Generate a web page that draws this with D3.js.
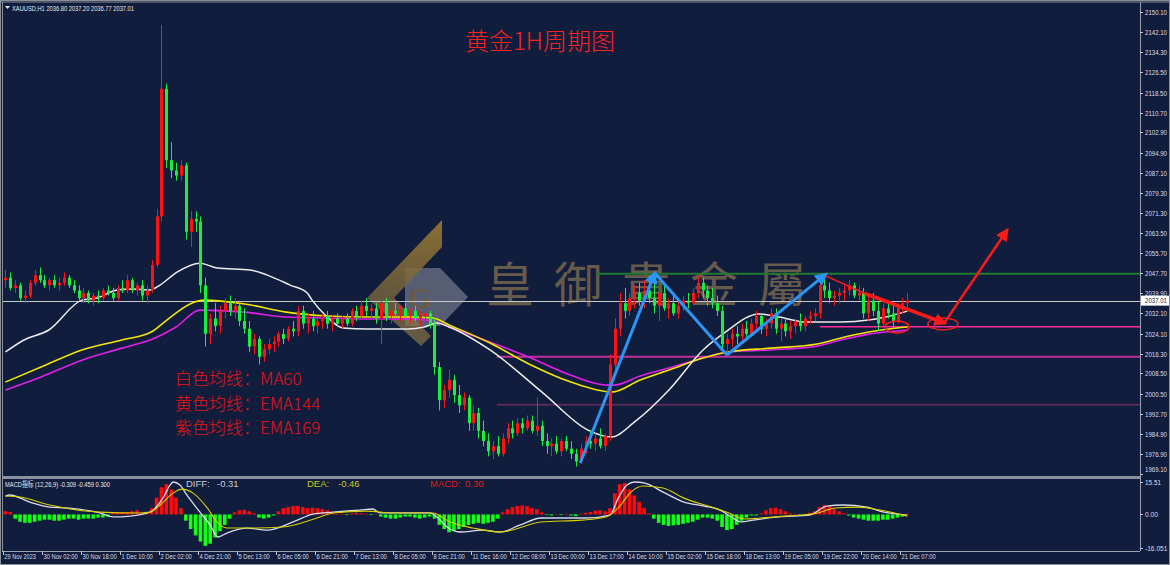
<!DOCTYPE html>
<html><head><meta charset="utf-8">
<script src="https://cdn.jsdelivr.net/npm/d3@7/dist/d3.min.js"></script>
<style>html,body{margin:0;padding:0;background:#111d3d;overflow:hidden}svg{display:block}</style>
</head><body><svg id="chart" width="1170" height="565"></svg>
<script>
// ---------------- DATA ----------------
// 2-hour candles (index 0 = 29 Nov), XAUUSD
const openP = [2045,2046,2042,2043,2038,2039,2044,2047,2045,2043,
2045,2043,2044,2046,2043,2041,2038,2040,2037,2039,
2038,2041,2040,2038,2042,2041,2045,2041,2043,2039,
2041,2051,2070,2120,2092,2088,2086,2090,2064,2069,
2068,2043,2024,2030,2027,2033,2036,2033,2035,2029,
2026,2019,2022,2015,2018,2020,2021,2024,2022,2026,
2025,2033,2028,2030,2027,2029,2031,2028,2030,2028,
2030,2028,2033,2031,2035,2033,2034,2030,2036,2031,
2033,2032,2034,2031,2033,2030,2031,2032,2028,2011,
1998,2002,2006,2000,1996,1999,1989,1993,1986,1982,
1978,1980,1977,1983,1987,1985,1989,1987,1990,1986,
1988,1982,1980,1981,1978,1982,1979,1977,1974,1979,
1982,1981,1983,1980,1984,2012,2026,2036,2033,2038,
2040,2037,2041,2038,2035,2040,2034,2036,2032,2035,
2037,2036,2040,2044,2041,2038,2036,2033,2020,2022,
2024,2023,2026,2024,2028,2031,2026,2028,2032,2026,
2028,2025,2027,2029,2027,2030,2031,2032,2043,2041,
2038,2039,2040,2041,2043,2039,2040,2032,2037,2033,
2028,2034,2032,2029,2035,2036];
const highP = [2049,2048,2045,2044,2041,2045,2049,2050,2047,2046,
2047,2046,2048,2047,2045,2043,2042,2041,2040,2041,
2042,2043,2042,2043,2045,2047,2046,2044,2045,2043,
2053,2073,2145,2122,2099,2091,2092,2091,2072,2072,
2070,2046,2032,2036,2035,2038,2039,2038,2037,2034,
2029,2024,2023,2020,2022,2023,2025,2026,2027,2029,
2035,2035,2032,2033,2031,2032,2033,2031,2032,2031,
2032,2034,2035,2037,2038,2036,2036,2038,2038,2035,
2036,2035,2036,2034,2035,2033,2034,2033,2030,2013,
2004,2010,2008,2004,2001,2000,1996,1995,1990,1985,
1982,1984,1985,1989,1990,1991,1991,1992,1992,1999,
1990,1985,1983,1984,1983,1984,1982,1979,1981,1984,
1986,1985,1987,1985,2016,2030,2040,2042,2040,2043,
2044,2045,2047,2044,2042,2043,2038,2039,2037,2039,
2040,2042,2047,2046,2043,2042,2039,2035,2024,2026,
2027,2028,2029,2030,2033,2032,2030,2034,2034,2030,
2030,2029,2030,2032,2031,2033,2034,2046,2047,2044,
2041,2042,2043,2045,2044,2043,2042,2039,2040,2037,
2036,2037,2035,2036,2038,2040];
const lowP = [2042,2041,2040,2037,2036,2038,2043,2044,2042,2041,
2042,2041,2043,2042,2040,2037,2036,2036,2035,2036,
2037,2039,2037,2037,2040,2040,2040,2039,2037,2036,
2040,2050,2068,2089,2085,2084,2084,2061,2058,2064,
2040,2019,2020,2025,2024,2030,2031,2030,2027,2024,
2017,2016,2012,2013,2016,2017,2019,2020,2021,2023,
2023,2026,2024,2025,2024,2026,2026,2025,2027,2026,
2027,2027,2029,2030,2031,2030,2028,2020,2029,2028,
2030,2029,2030,2028,2029,2027,2028,2026,2008,1994,
1995,1999,1997,1993,1994,1986,1986,1983,1980,1976,
1975,1976,1976,1981,1983,1984,1985,1986,1985,1984,
1980,1977,1976,1977,1976,1978,1975,1972,1973,1977,
1979,1978,1979,1978,1982,2010,2023,2030,2031,2034,
2035,2034,2036,2032,2029,2033,2030,2031,2030,2033,
2034,2035,2038,2038,2035,2034,2031,2017,2016,2019,
2020,2021,2022,2023,2026,2024,2023,2026,2024,2021,
2023,2022,2024,2025,2025,2028,2029,2030,2038,2036,
2035,2036,2037,2039,2038,2037,2030,2029,2031,2025,
2027,2030,2026,2028,2032,2034];
const closeP = [2046,2042,2043,2038,2039,2044,2047,2045,2043,2045,
2043,2044,2046,2043,2041,2038,2040,2037,2039,2038,
2041,2040,2038,2042,2041,2045,2041,2043,2039,2041,
2051,2070,2120,2092,2088,2086,2090,2064,2069,2068,
2043,2024,2030,2027,2033,2036,2033,2035,2029,2026,
2019,2022,2015,2018,2020,2021,2024,2022,2026,2025,
2033,2028,2030,2027,2029,2031,2028,2030,2028,2030,
2028,2033,2031,2035,2033,2034,2030,2036,2031,2033,
2032,2034,2031,2033,2030,2031,2032,2028,2011,1998,
2002,2006,2000,1996,1999,1989,1993,1986,1982,1978,
1980,1977,1983,1987,1985,1989,1987,1990,1986,1988,
1982,1980,1981,1978,1982,1979,1977,1974,1979,1982,
1981,1983,1980,1984,2012,2026,2036,2033,2038,2040,
2037,2041,2038,2035,2040,2034,2036,2032,2035,2037,
2036,2040,2044,2041,2038,2036,2033,2020,2022,2024,
2023,2026,2024,2028,2031,2026,2028,2032,2026,2028,
2025,2027,2029,2027,2030,2031,2032,2043,2041,2038,
2039,2040,2041,2043,2039,2040,2032,2037,2033,2028,
2034,2032,2029,2035,2036,2037.01];

// moving averages: [candle index, price]
const ma60 = [[0,2016.9],[3.8,2021.6],[8.9,2025.5],[15.7,2037.2],[18.8,2038.0],[22.9,2041.2],[26.2,2041.6],[29.7,2041.2],[31.7,2043.1],[35.2,2048.2],[39.9,2051.7],[43.4,2049.8],[50.2,2049.0],[53.7,2047.0],[58.4,2043.1],[61.9,2040.0],[62.9,2037.2],[66.0,2030.6],[69.2,2026.3],[74.2,2025.9],[82.6,2025.9],[85.9,2026.7],[88.5,2028.2],[91.0,2026.7],[99.4,2017.7],[110.3,2000.8],[119.5,1986.3],[124.4,1983.6],[129.0,1989.4],[136.1,2002.0],[143.1,2017.7],[147.4,2024.3],[154.6,2031.8],[158.7,2030.6],[164.4,2028.6],[171.4,2028.6],[177.1,2029.4],[180.6,2030.6],[185,2032.9]];
const ema144 = [[0,2005.1],[7.3,2011.0],[15.7,2017.7],[23.9,2021.6],[29.9,2024.7],[33.1,2029.4],[38.3,2036.1],[40.7,2037.2],[49.1,2035.7],[57.6,2032.5],[66.0,2031.0],[74.2,2030.6],[82.6,2030.6],[87.7,2030.2],[91.0,2027.5],[99.4,2020.4],[107.8,2011.8],[116.0,2005.1],[124.4,2001.2],[130.2,2005.9],[136.1,2009.8],[143.1,2014.5],[148.2,2016.9],[157.2,2018.4],[166.5,2020.0],[171.4,2022.4],[177.1,2024.7],[182.9,2026.3],[185,2026.7]];
const ema169 = [[0,2002.0],[7.3,2007.1],[15.7,2013.7],[23.9,2018.4],[30.7,2022.4],[35.0,2026.7],[39.9,2033.3],[49.1,2032.5],[57.6,2030.6],[66.0,2030.2],[74.2,2029.8],[82.6,2029.8],[87.7,2029.0],[91.0,2026.7],[99.4,2020.8],[107.8,2014.5],[116.0,2007.8],[123.6,2003.9],[124.8,2003.9],[130.2,2007.5],[136.1,2010.6],[143.1,2014.5],[148.2,2016.9],[157.2,2017.7],[166.5,2019.2],[171.4,2021.6],[177.1,2023.9],[182.9,2025.1],[185,2025.5]];

// MACD (12,26,9)
const macdHist = [1.5,1.2,-2,-3.5,-4,-4,-3.5,-3,-2.5,-2.5,
-3,-3,-2.5,-2,-2,-2.5,-2,-2,-2,-1.5,
-1.5,-1,0.8,1,1.2,1.2,1.5,2,0.5,0.2,
3,8,13,14.5,12,8,3,-3,-7,-10,
-13,-15,-14,-11,-8,-5,-2,1,2,2.2,
1.5,0.5,-1.5,-2,-1.5,-0.5,1.5,3,3.5,4,
4,3.5,3,3.2,3,2.5,2,1,0.3,0.3,
-0.3,0.5,0.8,0.5,0.3,-0.3,0.2,-1,-1.5,-2,
-2,-1.5,-1,-1,-1.5,-2,-1.5,-1,-2,-5,
-7,-8.5,-8,-7,-6,-5,-4.5,-4,-4.5,-4,
-3.5,-2,1,2.5,3.5,4,4.3,4,3,2.5,
1,-0.3,-0.5,0.2,-0.3,0.3,-0.5,-0.8,0.3,0.8,
1.2,1.8,2,1.5,3,10,14.5,15,12,9,
6,3,0.5,-2,-4,-5,-5.5,-5.2,-5,-4.5,
-4,-3.5,-2.5,-1.5,-1.5,-2,-3,-6,-7.5,-7,
-5,-3,-1.5,-0.5,-0.5,0.5,2,3,3.2,2.5,
1.5,0.5,0.3,-0.3,0.3,0.8,1.5,3.5,4.5,4,
2.5,1.5,0.5,-0.5,-1.5,-2,-2.5,-3,-3,-3,
-2.5,-2.5,-2,-1.5,-1,0.3];
const macdDiff = [[0,8.8],[0.9,9.3],[5.0,5.9],[9.1,3.5],[12.6,3.1],[19.4,0.7],[22.1,-1.2],[25.6,-0.8],[28.2,0.2],[29.7,1.1],[32.3,7.8],[33.8,14.1],[34.4,15.5],[35.8,14.1],[37.2,9.3],[39.9,1.1],[42.0,-5.1],[43.6,-10.8],[45.4,-8.9],[49.6,-6.5],[53.7,-7.5],[59.0,-3.6],[63.1,0.2],[67.2,1.1],[72.7,2.1],[75.4,2.6],[76.8,0.7],[80.9,0.7],[87.1,0.7],[88.5,-1.2],[90.6,-6.0],[93.2,-8.4],[98.0,-7.5],[101.5,-8.4],[105.5,-5.1],[109.9,-1.7],[119.1,-1.7],[124.0,-0.3],[125.7,7.8],[127.5,14.1],[129.1,15.5],[131.2,15.0],[134.9,10.7],[139.2,5.9],[143.3,4.0],[146.6,2.1],[149.2,-1.7],[150.9,-3.6],[153.4,-2.7],[158.5,-1.2],[165.0,-0.3],[168.5,4.0],[171.8,4.5],[176.7,3.5],[180.2,1.1],[185,-0.3]];
const macdDea = [[0,8.8],[3.0,8.3],[9.1,4.5],[19.4,1.1],[27.6,0.7],[29.7,1.1],[31.7,4.5],[34.4,10.2],[36.2,12.1],[38.5,10.2],[41.4,3.1],[43.4,-3.6],[45.4,-6.5],[50.2,-6.5],[56.9,-6.0],[63.9,-1.7],[67.2,0.7],[74.2,1.6],[79.5,0.7],[87.7,0.7],[91.2,-3.6],[95.9,-6.5],[101.5,-8.4],[109.9,-3.6],[118.3,-2.7],[123.2,-1.2],[125.7,3.1],[128.3,10.7],[130.8,13.6],[134.9,12.6],[139.2,7.8],[144.9,3.5],[148.4,0.7],[151.7,-2.2],[154.9,-1.7],[160.1,-0.8],[166.7,0.7],[170.2,3.1],[175.1,3.5],[179.4,2.1],[185,-0.8]];

// axes
const priceTicks = ["2150.10","2142.10","2134.30","2126.50","2118.50","2110.70","2102.90","2094.90","2087.10","2079.30","2071.30","2063.50","2055.70","2047.70","2039.90","2032.10","2024.10","2016.30","2008.50","2000.50","1992.70","1984.90","1976.90","1969.10"];
const macdTicks = ["15.51","0.00","-16.051"];
const timeLabels = ["29 Nov 2023","30 Nov 02:00","30 Nov 18:00","1 Dec 10:00","2 Dec 02:00","4 Dec 21:00","5 Dec 13:00","6 Dec 05:00","6 Dec 21:00","7 Dec 13:00","8 Dec 05:00","8 Dec 21:00","11 Dec 16:00","12 Dec 08:00","13 Dec 00:00","13 Dec 17:00","14 Dec 10:00","15 Dec 02:00","15 Dec 18:00","18 Dec 13:00","19 Dec 05:00","19 Dec 22:00","20 Dec 14:00","21 Dec 07:00"];
const timeStep = 8; // candles between time labels

// annotations (candle index, price)
const levelPrices = [2047.55, 2026.8, 2015.0, 1996.2];
const levelStarts = [121.3, 167.1, 100.8, 100.8];
const lastPrice = 2037.01;
const bluePath = [[117.9,1973.4],[133.2,2047.8],[148.0,2015.7],[168.3,2047.4]];
const redTrend = [[168.3,2046.7],[176.3,2039.8],[192.7,2028.2]];
const redUp = [[192.7,2028.6],[205.5,2064.7]];
const circles = [[182.9,2026.7],[192.3,2027.9]];

const headerText = "XAUUSD,H1  2036.80 2037.20 2036.77 2037.01";
const titleText = "黄金1H周期图";
const legendLines = ["白色均线：MA60","黄色均线：EMA144","紫色均线：EMA169"];
const macdInfo = "MACD指标 (12,26,9) -0.309 -0.459 0.300";
const macdVals = [["DIFF:","-0.31"],["DEA:","-0.46"],["MACD:","0.30"]];

// ---------------- DRAW ----------------
const svg = d3.select("#chart");
const BG = "#111d3d";
const plotL = 3, plotR = 1140, mainTop = 3, mainBot = 475, macdTop = 479, macdBot = 551;
const x = d3.scaleLinear().domain([0, 184]).range([3, 900]);
const cx = i => x(i + 0.5);
const y = d3.scaleLinear().domain([1969.1, 2153.2]).range([474, 4]);
const ym = d3.scaleLinear().domain([-16.051, 15.51]).range([548, 482]);

svg.append("rect").attr("width", 1170).attr("height", 565).attr("fill", BG);
const defs = svg.append("defs");
defs.append("clipPath").attr("id", "clipMain").append("rect")
  .attr("x", plotL).attr("y", mainTop).attr("width", plotR - plotL).attr("height", mainBot - mainTop);
defs.append("clipPath").attr("id", "clipMacd").append("rect")
  .attr("x", plotL).attr("y", macdTop).attr("width", plotR - plotL).attr("height", macdBot - macdTop);
function marker(id, color, size) {
  defs.append("marker").attr("id", id).attr("viewBox", "0 0 10 10").attr("refX", 8).attr("refY", 5)
    .attr("markerWidth", size).attr("markerHeight", size).attr("markerUnits", "userSpaceOnUse")
    .attr("orient", "auto").append("path").attr("d", "M0,0 L10,5 L0,10 Z").attr("fill", color);
}
marker("arrBlue", "#2a95f5", 13);
marker("arrRed", "#ff1a1a", 13);
const gold = defs.append("linearGradient").attr("id", "gold").attr("x1", 0).attr("y1", 0).attr("x2", 0).attr("y2", 1);
gold.append("stop").attr("offset", "0%").attr("stop-color", "#a07c30");
gold.append("stop").attr("offset", "100%").attr("stop-color", "#70603e");

// watermark
const wm = svg.append("g").attr("clip-path", "url(#clipMain)");
wm.append("polygon").attr("points", "405,268 440,268 468,297 440,326 405,326").attr("fill", "#5f6679").attr("opacity", 0.9);
wm.append("polygon").attr("points", "442,220 442,247 394,298 367,298").attr("fill", "url(#gold)").attr("opacity", 0.85);
wm.append("polygon").attr("points", "367,298 394,298 431,336 421,346").attr("fill", "#8a7444").attr("opacity", 0.7);
wm.append("text").attr("x", 420).attr("y", 308).attr("text-anchor", "middle")
  .attr("font-family", "Liberation Serif, serif").attr("font-weight", "bold").attr("font-size", 30)
  .attr("fill", "#6a5a44").text("G");
wm.append("text").attr("x", 486).attr("y", 302)
  .attr("font-family", "Noto Sans CJK TC, Noto Sans CJK SC, sans-serif").attr("font-size", 48)
  .attr("letter-spacing", 20).attr("fill", "#6e604c").attr("opacity", 0.92).text("皇御貴金屬");

// horizontal levels
const gMain = svg.append("g").attr("clip-path", "url(#clipMain)");
const levelColors = ["#207a32", "#ff2a9c", "#c0309a", "#5a2a5c"];
const levelWidths = [2, 1.5, 2, 2];
levelPrices.forEach((p, k) => {
  gMain.append("line").attr("x1", cx(levelStarts[k])).attr("x2", plotR)
    .attr("y1", y(p)).attr("y2", y(p)).attr("stroke", levelColors[k]).attr("stroke-width", levelWidths[k]);
});
gMain.append("line").attr("x1", plotL).attr("x2", plotR).attr("y1", Math.round(y(lastPrice)) + 0.5).attr("y2", Math.round(y(lastPrice)) + 0.5)
  .attr("stroke", "#c8c8c8").attr("stroke-width", 1);

// moving averages
const maLine = d3.line().x(d => cx(d[0])).y(d => y(d[1])).curve(d3.curveMonotoneX);
gMain.append("path").datum(ema169).attr("d", maLine).attr("fill", "none").attr("stroke", "#e020e8").attr("stroke-width", 1.6);
gMain.append("path").datum(ema144).attr("d", maLine).attr("fill", "none").attr("stroke", "#f2e600").attr("stroke-width", 1.6);
gMain.append("path").datum(ma60).attr("d", maLine).attr("fill", "none").attr("stroke", "#ececec").attr("stroke-width", 1.5);

// candles
const UP = "#ff1212", DN = "#18f040";
const candles = d3.range(openP.length);
const cg = gMain.append("g");
cg.selectAll("line.w").data(candles).join("line").attr("class", "w")
  .attr("x1", i => Math.round(cx(i)) + 0.5).attr("x2", i => Math.round(cx(i)) + 0.5)
  .attr("y1", i => y(highP[i])).attr("y2", i => y(lowP[i]))
  .attr("stroke", i => closeP[i] >= openP[i] ? UP : DN).attr("stroke-width", 1);
cg.selectAll("rect.b").data(candles).join("rect").attr("class", "b")
  .attr("x", i => Math.round(cx(i)) - 1).attr("width", 3)
  .attr("y", i => y(Math.max(openP[i], closeP[i])))
  .attr("height", i => Math.max(1, Math.abs(y(openP[i]) - y(closeP[i]))))
  .attr("fill", i => closeP[i] >= openP[i] ? UP : DN);

// annotations
const annLine = d3.line().x(d => cx(d[0])).y(d => y(d[1]));
gMain.append("path").datum(bluePath.slice(0, 2)).attr("d", annLine).attr("fill", "none").attr("stroke", "#2a95f5").attr("stroke-width", 3).attr("marker-end", "url(#arrBlue)");
gMain.append("path").datum(bluePath.slice(1, 3)).attr("d", annLine).attr("fill", "none").attr("stroke", "#2a95f5").attr("stroke-width", 3);
gMain.append("path").datum(bluePath.slice(2, 4)).attr("d", annLine).attr("fill", "none").attr("stroke", "#2a95f5").attr("stroke-width", 3).attr("marker-end", "url(#arrBlue)");
gMain.append("path").datum(redTrend.slice(0, 2)).attr("d", annLine).attr("fill", "none").attr("stroke", "#ff1a1a").attr("stroke-width", 1.5);
gMain.append("path").datum(redTrend.slice(1, 3)).attr("d", annLine).attr("fill", "none").attr("stroke", "#ff1a1a").attr("stroke-width", 3.5).attr("marker-end", "url(#arrRed)");
gMain.append("path").datum(redUp).attr("d", annLine).attr("fill", "none").attr("stroke", "#ff1a1a").attr("stroke-width", 2.5).attr("marker-end", "url(#arrRed)");
const rx = [12, 15];
circles.forEach((c, k) => {
  gMain.append("ellipse").attr("cx", cx(c[0])).attr("cy", y(c[1])).attr("rx", rx[k]).attr("ry", 6)
    .attr("fill", "none").attr("stroke", "#ff1a1a").attr("stroke-width", 1.5);
});

// title and legend
svg.append("text").attr("x", 465).attr("y", 50).attr("font-family", "Noto Sans CJK SC, sans-serif")
  .attr("font-size", 24).attr("font-weight", 300).attr("fill", "#ff2020").text(titleText);
legendLines.forEach((t, k) => {
  svg.append("text").attr("x", 175).attr("y", 385 + k * 24.5).attr("font-family", "Noto Sans CJK SC, sans-serif")
    .attr("font-size", 17).attr("font-weight", 300).attr("fill", "#e81414").text(t);
});
svg.append("path").attr("d", "M5,6 L10,6 L7.5,9 Z").attr("fill", "#e8e8e8");
svg.append("text").attr("x", 12).attr("y", 10.5).attr("font-family", "Liberation Sans, sans-serif")
  .attr("font-size", 8).attr("fill", "#e8e8e8").attr("textLength", 122).attr("lengthAdjust", "spacingAndGlyphs").text(headerText);

// MACD panel
const gm = svg.append("g").attr("clip-path", "url(#clipMacd)");
gm.selectAll("rect").data(macdHist).join("rect")
  .attr("x", (v, i) => cx(i) - 1.8).attr("width", 3.6)
  .attr("y", v => Math.min(ym(0), ym(v))).attr("height", v => Math.abs(ym(v) - ym(0)))
  .attr("fill", v => v >= 0 ? "#ff0a0a" : "#14ff14");
const mLine = d3.line().x(d => cx(d[0])).y(d => ym(d[1])).curve(d3.curveMonotoneX);
gm.append("path").datum(macdDiff).attr("d", mLine).attr("fill", "none").attr("stroke", "#d8dcea").attr("stroke-width", 1.3);
gm.append("path").datum(macdDea).attr("d", mLine).attr("fill", "none").attr("stroke", "#d8d000").attr("stroke-width", 1.1);
svg.append("text").attr("x", 5).attr("y", 487).attr("font-family", "Liberation Sans, Noto Sans CJK SC, sans-serif")
  .attr("font-size", 7.5).attr("fill", "#e8e8e8").attr("textLength", 105).attr("lengthAdjust", "spacingAndGlyphs").text(macdInfo);
const mvX = [[186, 217], [307, 338], [430, 465]];
const mvC = ["#c8ccd8", "#c8c820", "#e01818"];
macdVals.forEach((p, k) => {
  svg.append("text").attr("x", mvX[k][0]).attr("y", 487).attr("font-family", "Liberation Sans, sans-serif").attr("font-size", 9.5).attr("fill", mvC[k]).text(p[0]);
  svg.append("text").attr("x", mvX[k][1]).attr("y", 487).attr("font-family", "Liberation Sans, sans-serif").attr("font-size", 9.5).attr("fill", mvC[k]).text(p[1]);
});

// frames
svg.append("rect").attr("x", 0.5).attr("y", 0.5).attr("width", 1169).attr("height", 564).attr("fill", "none").attr("stroke", "#8a8e98");
svg.append("line").attr("x1", 2.5).attr("x2", 2.5).attr("y1", 2).attr("y2", macdBot).attr("stroke", "#8a8e98");
svg.append("line").attr("x1", 0).attr("x2", 1170).attr("y1", 2).attr("y2", 2).attr("stroke", "#8a8e98");
svg.append("rect").attr("x", 2).attr("y", 476).attr("width", plotR - 2).attr("height", 3).attr("fill", "#8a90a0");
svg.append("line").attr("x1", plotR + 0.5).attr("x2", plotR + 0.5).attr("y1", 2).attr("y2", macdBot).attr("stroke", "#9aa0b0");
svg.append("line").attr("x1", 2).attr("x2", plotR).attr("y1", macdBot + 0.5).attr("y2", macdBot + 0.5).attr("stroke", "#9aa0b0");

// price axis
const ax = svg.append("g");
priceTicks.forEach(t => {
  const v = +t, yy = Math.round(y(v)) + 0.5;
  ax.append("line").attr("x1", plotR).attr("x2", plotR + 3).attr("y1", yy).attr("y2", yy).attr("stroke", "#c0c4d0");
  ax.append("text").attr("x", 1145).attr("y", Math.min(yy, 469) + 2.5).attr("font-family", "Liberation Sans, sans-serif")
    .attr("font-size", 7).attr("fill", "#dcdce4").attr("textLength", 22).attr("lengthAdjust", "spacingAndGlyphs").text(t);
});
macdTicks.forEach(t => {
  const yy = Math.round(ym(+t)) + 0.5;
  ax.append("line").attr("x1", plotR).attr("x2", plotR + 3).attr("y1", yy).attr("y2", yy).attr("stroke", "#c0c4d0");
  ax.append("text").attr("x", 1145).attr("y", yy + 2.5).attr("font-family", "Liberation Sans, sans-serif")
    .attr("font-size", 7).attr("fill", "#dcdce4").attr("textLength", t.length * 3.2).attr("lengthAdjust", "spacingAndGlyphs").text(t);
});
const ly = y(lastPrice);
ax.append("rect").attr("x", 1141).attr("y", ly - 5).attr("width", 28).attr("height", 10).attr("fill", "#ffffff");
ax.append("text").attr("x", 1145).attr("y", ly + 2.5).attr("font-family", "Liberation Sans, sans-serif")
  .attr("font-size", 7).attr("fill", "#111d3d").attr("textLength", 22).attr("lengthAdjust", "spacingAndGlyphs").text(lastPrice.toFixed(2));

// time axis
timeLabels.forEach((t, k) => {
  const xx = Math.round(x(k * timeStep)) + 0.5;
  ax.append("line").attr("x1", xx).attr("x2", xx).attr("y1", macdBot).attr("y2", macdBot + 4).attr("stroke", "#c0c4d0");
  ax.append("text").attr("x", xx + 1).attr("y", 559).attr("font-family", "Liberation Sans, sans-serif")
    .attr("font-size", 7).attr("fill", "#dcdce4").attr("textLength", t.length * 2.85).attr("lengthAdjust", "spacingAndGlyphs").text(t);
});
</script>
</body></html>
